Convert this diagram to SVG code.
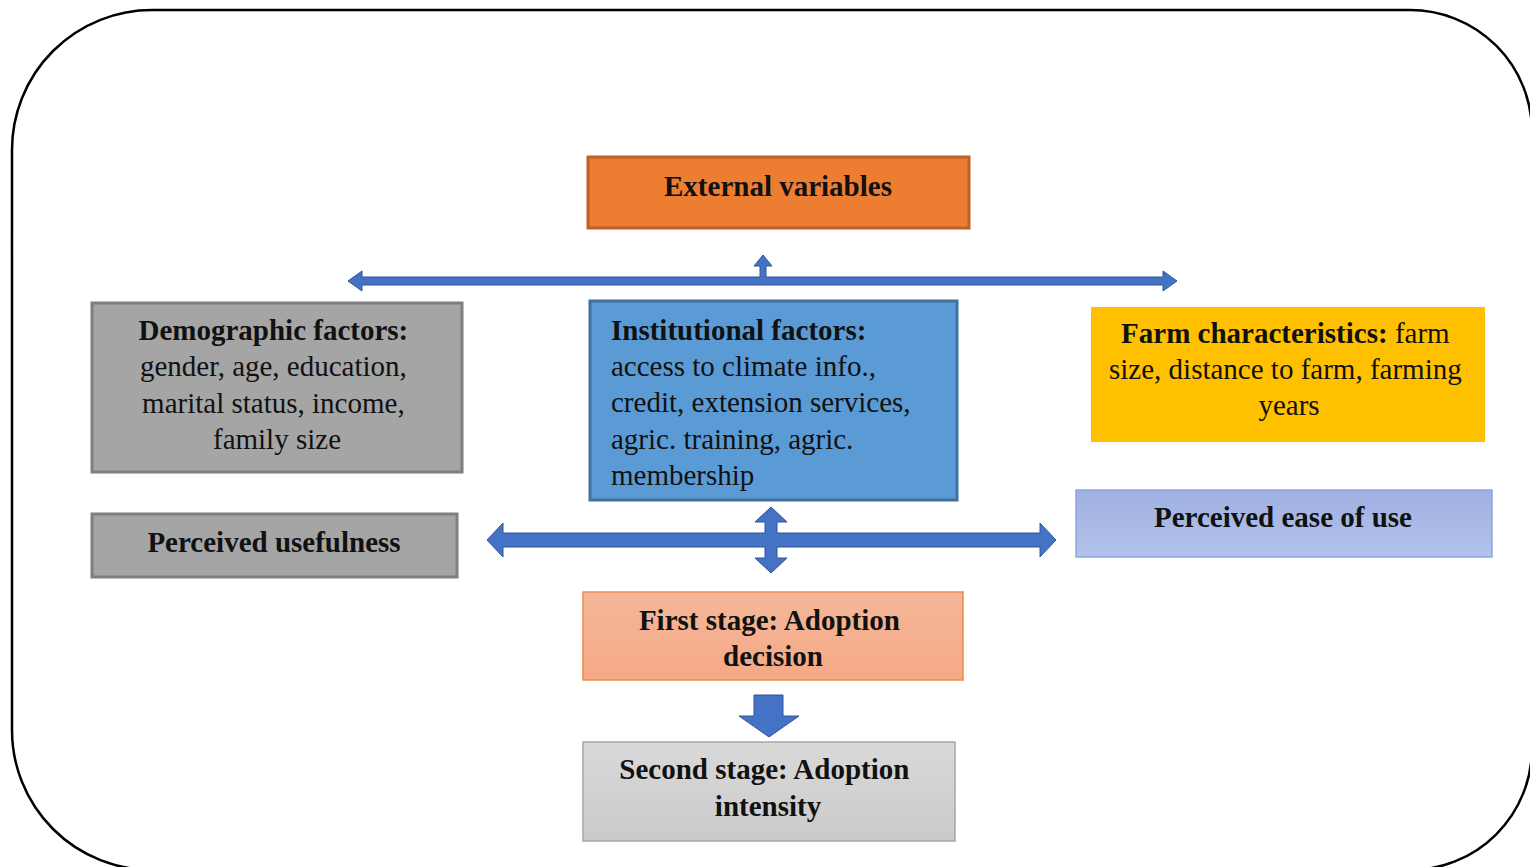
<svg xmlns="http://www.w3.org/2000/svg" width="1530" height="867" viewBox="0 0 1530 867">
  <defs>
    <linearGradient id="easeFill" x1="0" y1="0" x2="0" y2="1">
      <stop offset="0" stop-color="#9FB1E2"/>
      <stop offset="1" stop-color="#B3C2EB"/>
    </linearGradient>
    <linearGradient id="firstFill" x1="0" y1="0" x2="0" y2="1">
      <stop offset="0" stop-color="#F4B79A"/>
      <stop offset="1" stop-color="#F5A985"/>
    </linearGradient>
    <linearGradient id="secondFill" x1="0" y1="0" x2="0" y2="1">
      <stop offset="0" stop-color="#D9D9D9"/>
      <stop offset="1" stop-color="#CACACA"/>
    </linearGradient>
  </defs>
  <style>
    text { font-family: "Liberation Serif", "Times New Roman", serif; font-size: 29px; fill: #111; }
    .b { font-weight: bold; }
    .c { text-anchor: middle; }
    .arrow { fill: #4472C4; stroke: #2F5597; stroke-width: 1; stroke-linejoin: miter; }
    .gray { fill: #A5A5A5; stroke: #7F7F7F; stroke-width: 3; }
  </style>

  <rect width="1530" height="867" fill="#ffffff"/>

  <!-- outer frame with rounded corners -->
  <path d="M 12,150 A 140,140 0 0 1 152,10 L 1410,10 A 122,122 0 0 1 1532,132 L 1532,748 A 122,122 0 0 1 1410,870 L 152,870 A 140,140 0 0 1 12,730 Z" fill="none" stroke="#000" stroke-width="2.5"/>

  <g id="connectors">
    <!-- top horizontal double arrow with upward branch -->
    <polygon class="arrow" points="348,281 362,271 362,277 760,277 760,266 754,266 763,255 772,266 766,266 766,277 1163,277 1163,271 1177,281 1163,291 1163,285 362,285 362,291"/>
    <!-- middle four-way arrow -->
    <polygon class="arrow" points="487,540 503,523 503,533 765,533 765,522 755,522 771,507 787,522 777,522 777,533 1040,533 1040,523 1056,540 1040,557 1040,547 777,547 777,558 787,558 771,573 755,558 765,558 765,547 503,547 503,557"/>
    <!-- down arrow between stages -->
    <polygon class="arrow" points="754,695 783,695 783,716 799,716 769,737 739,716 754,716"/>
  </g>

  <g id="external-variables">
    <rect x="588" y="157" width="381" height="71" fill="#ED7D31" stroke="#BE6028" stroke-width="3"/>
    <text class="b c" x="778" y="196">External variables</text>
  </g>

  <g id="demographic-factors">
    <rect class="gray" x="92" y="303" width="370" height="169"/>
    <text class="c" x="277">
      <tspan class="b" x="277" y="340">Demographic factors:</tspan>
      <tspan x="277" y="376">gender, age, education,</tspan>
      <tspan x="277" y="413">marital status, income,</tspan>
      <tspan x="277" y="449">family size</tspan>
    </text>
  </g>

  <g id="institutional-factors">
    <rect x="590" y="301" width="367" height="199" fill="#5B9BD5" stroke="#41719C" stroke-width="3"/>
    <text x="611">
      <tspan class="b" x="611" y="340">Institutional factors:</tspan>
      <tspan x="611" y="376">access to climate info.,</tspan>
      <tspan x="611" y="412">credit, extension services,</tspan>
      <tspan x="611" y="449">agric. training, agric.</tspan>
      <tspan x="611" y="485">membership</tspan>
    </text>
  </g>

  <g id="farm-characteristics">
    <rect x="1091" y="307" width="394" height="135" fill="#FFC000"/>
    <text class="c" x="1289">
      <tspan x="1289" y="343"><tspan class="b">Farm characteristics:</tspan> farm</tspan>
      <tspan x="1289" y="379">size, distance to farm, farming</tspan>
      <tspan x="1289" y="415">years</tspan>
    </text>
  </g>

  <g id="perceived-usefulness">
    <rect class="gray" x="92" y="514" width="365" height="63"/>
    <text class="b c" x="274" y="552">Perceived usefulness</text>
  </g>

  <g id="perceived-ease-of-use">
    <rect x="1076" y="490" width="416" height="67" fill="url(#easeFill)" stroke="#8EA6DB" stroke-width="1.5"/>
    <text class="b c" x="1283" y="527">Perceived ease of use</text>
  </g>

  <g id="first-stage">
    <rect x="583" y="592" width="380" height="88" fill="url(#firstFill)" stroke="#F2884F" stroke-width="1.5"/>
    <text class="b c" x="773">
      <tspan x="773" y="630">First stage: Adoption</tspan>
      <tspan x="773" y="666">decision</tspan>
    </text>
  </g>

  <g id="second-stage">
    <rect x="583" y="742" width="372" height="99" fill="url(#secondFill)" stroke="#A6A6A6" stroke-width="1.5"/>
    <text class="b c" x="768">
      <tspan x="768" y="779">Second stage: Adoption</tspan>
      <tspan x="768" y="816">intensity</tspan>
    </text>
  </g>
</svg>
